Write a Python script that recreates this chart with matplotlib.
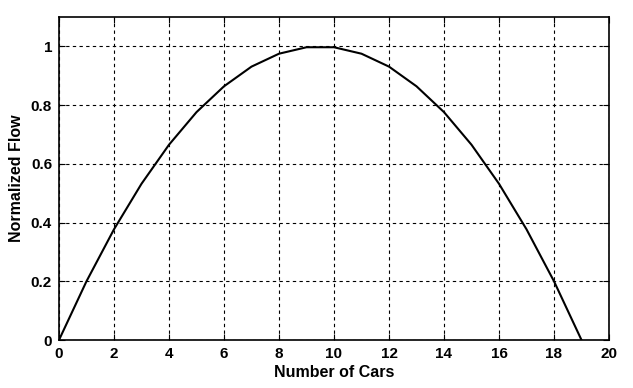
import matplotlib.pyplot as plt
import numpy as np

plt.rcParams['font.family'] = ['Liberation Sans', 'DejaVu Sans']
plt.rcParams['font.weight'] = 'bold'

cars = [0, 1, 2, 3, 4, 5, 6, 7, 8, 9, 10, 11, 12, 13, 14, 15, 16, 17, 18, 19]
flow = [0, 0.2, 0.377, 0.532, 0.665, 0.776, 0.864, 0.931, 0.975, 0.997,
        0.997, 0.975, 0.931, 0.864, 0.776, 0.665, 0.532, 0.377, 0.2, 0]

fig = plt.figure(figsize=(6.33, 3.88), dpi=100)
ax = fig.add_axes([59 / 633, 48 / 388, 550 / 633, 323 / 388])
ax.plot(cars, flow, color='black', linewidth=1.5)
ax.set_xlim(0, 20)
ax.set_ylim(0, 1.1)
ax.set_xticks(np.arange(0, 21, 2))
ax.set_yticks([0, 0.2, 0.4, 0.6, 0.8, 1])
ax.set_yticklabels(['0', '0.2', '0.4', '0.6', '0.8', '1'])
ax.grid(True, color='black', linestyle=(0, (3, 3)), linewidth=0.8)
ax.tick_params(direction='in', top=True, right=True, labelsize=11, length=4, pad=5)
for s in ax.spines.values():
    s.set_linewidth(1.2)
ax.set_xlabel('Number of Cars', fontsize=11.5, fontweight='bold', labelpad=3)
ax.set_ylabel('Normalized Flow', fontsize=11.5, fontweight='bold', labelpad=5)
fig.savefig('out.png', dpi=100)
